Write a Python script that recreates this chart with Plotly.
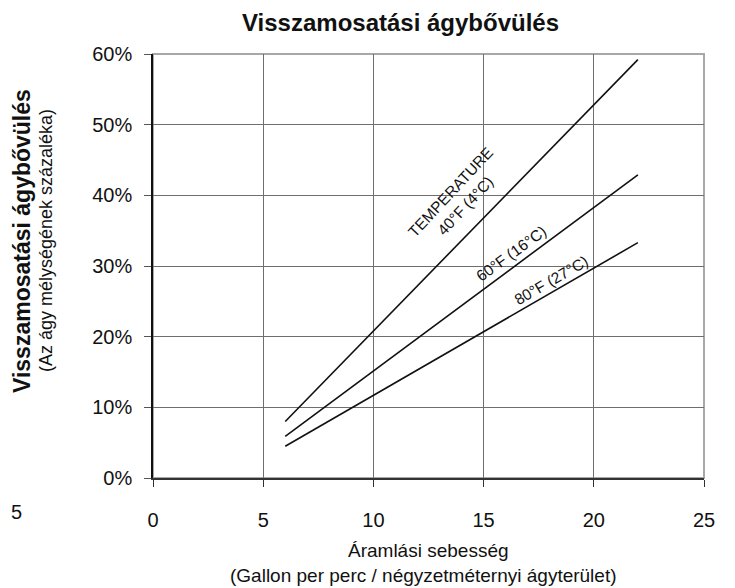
import plotly.graph_objects as go

flow = [6, 14, 22]
exp_40F = [8.0, 33.6, 59.2]
exp_60F = [5.9, 24.4, 42.9]
exp_80F = [4.5, 18.9, 33.3]
series_names = ["TEMPERATURE<br>40°F (4°C)", "60°F (16°C)", "80°F (27°C)"]
x_ticks = [0, 5, 10, 15, 20, 25]
y_ticks = [0, 10, 20, 30, 40, 50, 60]
y_tick_labels = [f"{v}%" for v in y_ticks]

FONT = "Liberation Sans, Arial, sans-serif"

# screen geometry (page body has an 8px offset)
OFF = 8
W, H = 735 - OFF, 588 - OFF
PX0, PX1, PY0, PY1 = 153, 704, 54, 478   # plot area on screen
L, R, T, B = PX0 - OFF, W - (PX1 - OFF), PY0 - OFF, H - (PY1 - OFF)


def px(sx):
    return (sx - PX0) / (PX1 - PX0)


def py(sy):
    return (PY1 - sy) / (PY1 - PY0)


fig = go.Figure()
for ys in (exp_40F, exp_60F, exp_80F):
    fig.add_trace(go.Scatter(x=flow, y=ys, mode="lines",
                             line=dict(color="#111111", width=1.6),
                             showlegend=False, hoverinfo="skip"))

labels = [
    (series_names[0], 13.85, 39.5, -47),
    (series_names[1], 16.25, 31.8, -36),
    (series_names[2], 18.05, 28.0, -30),
]
for txt, x, y, ang in labels:
    fig.add_annotation(x=x, y=y, xref="x", yref="y", text=txt, showarrow=False,
                       textangle=ang, font=dict(family=FONT, size=15.5, color="#111111"),
                       align="center")

# plot border (top/right gray)
fig.add_shape(type="rect", xref="paper", yref="paper", x0=0, y0=0, x1=1, y1=1,
              line=dict(color="#a8a8a8", width=2), layer="below")

fig.update_layout(
    width=W, height=H,
    margin=dict(l=L, r=R, t=T, b=B),
    paper_bgcolor="white", plot_bgcolor="white",
    font=dict(family=FONT, color="black"),
    xaxis=dict(range=[0, 25], tickvals=x_ticks, showgrid=True, gridcolor="#6e6e6e",
               gridwidth=1, showline=True, linecolor="#333333", linewidth=2,
               ticks="outside", ticklen=7, tickcolor="#333333", tickwidth=1.2,
               ticklabelstandoff=16,
               tickfont=dict(family=FONT, size=20, color="#111111"), zeroline=False),
    yaxis=dict(range=[0, 60], tickvals=y_ticks, ticktext=y_tick_labels, showgrid=True,
               gridcolor="#6e6e6e", gridwidth=1, showline=True, linecolor="#111111",
               linewidth=1.5, ticks="outside", ticklen=7, tickcolor="#555555",
               ticklabelstandoff=8,
               tickfont=dict(family=FONT, size=20, color="#111111"), zeroline=False),
)

texts = [
    ("<b>Visszamosatási ágybővülés</b>", 400, 22, 0, 24, "center"),
    ("<b>Visszamosatási ágybővülés</b>", 22, 241, -90, 23, "center"),
    ("(Az ágy mélységének százaléka)", 46, 241, -90, 18, "center"),
    ("Áramlási sebesség", 428, 550, 0, 19, "center"),
    ("(Gallon per perc / négyzetméternyi ágyterület)", 423, 575, 0, 19, "center"),
    ("5", 9, 512, 0, 20, "left"),
]
for txt, sx, sy, ang, size, xa in texts:
    fig.add_annotation(x=px(sx), y=py(sy), xref="paper", yref="paper", text=txt,
                       showarrow=False, textangle=ang, xanchor=xa, yanchor="middle",
                       font=dict(family=FONT, size=size, color="#111111"))

fig.write_html("out.html")
